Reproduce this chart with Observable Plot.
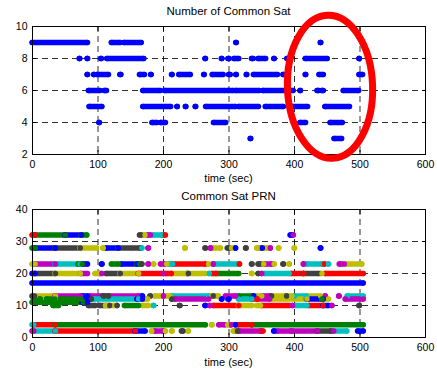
<!DOCTYPE html>
<html><head><meta charset="utf-8">
<script src="https://cdn.jsdelivr.net/npm/d3@7"></script>
<script src="https://cdn.jsdelivr.net/npm/@observablehq/plot@0.6"></script>
<style>
body{margin:0;background:#fff;font-family:"Liberation Sans",Arial,Helvetica,sans-serif;}
#fig{position:relative;width:437px;height:371px;overflow:hidden;background:#fff}
.ttl{position:absolute;left:32px;width:393px;text-align:center;font-size:11.5px;line-height:12px;color:#000;z-index:2}
.xl{font-size:11px}
.p{position:absolute;left:0}
</style></head><body>
<div id="fig">
  <div id="top" class="p" style="top:0"></div>
  <div id="bot" class="p" style="top:190px"></div>
  <div class="ttl" style="top:5px">Number of Common Sat</div>
  <div class="ttl xl" style="top:172px">time (sec)</div>
  <div class="ttl" style="top:190px">Common Sat PRN</div>
  <div class="ttl xl" style="top:356px">time (sec)</div>
</div>
<script>
// ---- axes / ticks ----
const timeTicks = [0, 100, 200, 300, 400, 500, 600];
const countTicks = [2, 4, 6, 8, 10];
const prnTicks = [0, 10, 20, 30, 40];

// ---- top panel: runs of equal satellite count [start sec, end sec, count] ----
const satCountRuns = [
  [0,84,9],[121,134,9],[140,166,9],[311,311,9],[440,440,9],
  [72,72,8],[84,84,8],[105,105,8],[114,170,8],[264,264,8],[289,289,8],[299,300,8],[308,315,8],
  [335,337,8],[345,356,8],[369,369,8],[389,389,8],[417,450,8],[499,499,8],
  [84,84,7],[94,94,7],[99,116,7],[134,135,7],[164,171,7],[181,181,7],[213,213,7],[224,241,7],
  [262,262,7],[275,291,7],[300,302,7],[311,311,7],[327,327,7],[338,374,7],[383,383,7],
  [417,417,7],[438,444,7],[499,504,7],
  [86,103,6],[110,113,6],[169,195,6],[202,294,6],[298,306,6],[310,346,6],[352,398,6],
  [409,409,6],[435,437,6],[442,444,6],[475,498,6],
  [87,106,5],[169,211,5],[221,221,5],[234,234,5],[249,249,5],[265,310,5],[315,345,5],
  [356,383,5],[397,420,5],[447,484,5],
  [102,102,4],[183,190,4],[196,203,4],[277,295,4],[409,417,4],[455,473,4],
  [333,333,3],[461,472,3]
];

// ---- annotation ellipse (data units): centre time, centre count, half-width sec, half-height count ----
const markEllipse = [455, 6.2, 65, 4.47];

// ---- bottom panel: runs of PRN tracks [prn, start sec, end sec, colour key] ----
const satColors = {b:"#0000ff", g:"#008000", r:"#ff0000", c:"#00bfbf", m:"#bf00bf", y:"#bfbf00", k:"#404040"};
const prnRuns = [
  [32,0,4,"r"],[32,4,50,"g"],[32,50,75,"b"],[32,75,83,"g"],[32,164,166,"k"],[32,168,172,"y"],
  [32,176,180,"m"],[32,184,198,"c"],[32,200,203,"r"],[32,394,396,"b"],[32,398,398,"m"],
  [28,0,4,"g"],[28,4,35,"b"],[28,35,73,"k"],[28,73,98,"y"],[28,108,108,"y"],[28,113,131,"b"],
  [28,131,164,"k"],[28,167,167,"c"],[28,177,177,"m"],[28,233,233,"y"],[28,264,264,"k"],
  [28,272,272,"m"],[28,276,287,"y"],[28,298,300,"k"],[28,304,304,"y"],[28,310,310,"b"],
  [28,326,326,"k"],[28,343,346,"y"],[28,349,351,"b"],[28,355,360,"y"],[28,363,363,"m"],
  [28,376,376,"y"],[28,400,400,"y"],[28,440,440,"b"],
  [23,0,4,"y"],[23,4,35,"m"],[23,35,73,"c"],[23,70,76,"g"],[23,78,84,"b"],[23,106,106,"b"],
  [23,121,131,"g"],[23,136,160,"b"],[23,160,164,"g"],[23,167,167,"k"],[23,177,177,"m"],
  [23,185,185,"y"],[23,196,202,"m"],[23,205,205,"y"],[23,208,214,"c"],[23,215,264,"r"],
  [23,269,269,"y"],[23,276,276,"m"],[23,279,315,"c"],[23,316,316,"r"],[23,335,335,"k"],
  [23,345,348,"k"],[23,351,353,"y"],[23,355,365,"m"],[23,369,369,"y"],[23,383,383,"k"],
  [23,392,392,"y"],[23,414,414,"m"],[23,419,443,"c"],[23,444,446,"r"],[23,452,452,"c"],
  [23,469,476,"m"],[23,478,503,"y"],
  [20,0,4,"b"],[20,4,35,"k"],[20,35,73,"y"],[20,74,84,"m"],[20,96,100,"y"],[20,103,106,"m"],
  [20,113,134,"k"],[20,134,162,"y"],[20,162,197,"r"],[20,200,200,"m"],[20,203,212,"r"],
  [20,213,233,"y"],[20,236,238,"k"],[20,238,264,"y"],[20,270,270,"c"],[20,274,280,"r"],
  [20,281,315,"g"],[20,335,335,"y"],[20,345,345,"k"],[20,350,350,"m"],[20,354,392,"c"],
  [20,395,414,"r"],[20,414,437,"k"],[20,440,442,"y"],[20,447,505,"r"],
  [17,0,505,"b"],
  [13,0,3,"k"],[13,4,35,"y"],[13,35,73,"m"],[13,76,84,"b"],[13,88,162,"m"],[13,108,110,"k"],
  [13,116,116,"k"],[13,167,168,"b"],[13,180,180,"k"],[13,187,195,"y"],[13,200,200,"m"],
  [13,205,210,"y"],[13,213,269,"c"],[13,272,274,"y"],[13,276,276,"k"],[13,280,284,"y"],
  [13,295,310,"m"],[13,315,335,"g"],[13,338,338,"b"],[13,343,350,"y"],[13,352,362,"m"],
  [13,365,365,"k"],[13,367,384,"y"],[13,388,388,"k"],[13,390,396,"y"],[13,400,418,"c"],
  [13,419,440,"y"],[13,447,447,"m"],[13,468,468,"m"],[13,481,505,"c"],
  [12,2,12,"g"],[12,22,34,"g"],[12,44,56,"g"],[12,62,74,"g"],[12,78,86,"b"],[12,90,90,"k"],
  [12,94,162,"c"],[12,160,168,"b"],[12,172,176,"y"],[12,213,213,"k"],[12,218,269,"m"],
  [12,289,289,"b"],[12,299,300,"b"],[12,315,335,"c"],[12,336,343,"r"],[12,344,362,"m"],
  [12,366,419,"y"],[12,419,444,"b"],[12,442,442,"g"],[12,446,452,"y"],[12,478,505,"m"],
  [11,0,78,"g"],[11,76,84,"b"],
  [10,32,40,"g"],[10,86,96,"k"],[10,103,118,"k"],[10,112,126,"y"],[10,129,129,"k"],
  [10,141,162,"g"],[10,168,177,"y"],[10,185,185,"c"],[10,225,225,"k"],[10,264,264,"b"],
  [10,271,271,"m"],[10,276,315,"r"],[10,315,335,"y"],[10,343,348,"y"],[10,350,392,"r"],
  [10,397,397,"m"],[10,402,419,"c"],[10,422,444,"r"],[10,444,452,"b"],[10,457,457,"m"],
  [10,499,499,"k"],
  [4,0,2,"c"],[4,2,35,"r"],[4,35,264,"g"],[4,274,274,"y"],[4,285,294,"m"],[4,298,298,"y"],
  [4,302,304,"m"],[4,310,310,"b"],[4,314,335,"r"],[4,335,505,"g"],
  [2,0,2,"m"],[2,2,35,"c"],[2,35,157,"r"],[2,157,172,"b"],[2,182,182,"y"],[2,187,200,"m"],
  [2,203,203,"y"],[2,213,213,"y"],[2,228,230,"k"],[2,238,238,"y"],[2,307,310,"y"],
  [2,311,313,"k"],[2,316,349,"m"],[2,349,352,"r"],[2,369,369,"b"],[2,374,394,"m"],
  [2,397,435,"m"],[2,435,455,"k"],[2,456,460,"m"],[2,460,480,"c"],[2,497,505,"b"]
];

const FONT = "\"Liberation Sans\", Arial, Helvetica, sans-serif";
const DOT_W = 5.5;
const gridStyle = {stroke:"#000", strokeOpacity:0.9, strokeDasharray:"6,4", strokeWidth:0.9};
const noText = () => "";

function grid(yTicks) {
  return [
    Plot.ruleX(timeTicks.slice(1, -1), gridStyle),
    Plot.ruleY(yTicks.slice(1, -1), gridStyle),
  ];
}
function frameAndAxes(yTicks) {
  return [
    Plot.frame({stroke:"#000", strokeWidth:1}),
    // inward tick marks on all four sides
    Plot.axisX(timeTicks, {anchor:"bottom", tickSize:-4, tickFormat:noText, label:null}),
    Plot.axisX(timeTicks, {anchor:"top", tickSize:-4, tickFormat:noText, label:null}),
    Plot.axisY(yTicks, {anchor:"left", tickSize:-4, tickFormat:noText, label:null}),
    Plot.axisY(yTicks, {anchor:"right", tickSize:-4, tickFormat:noText, label:null}),
    // tick labels
    Plot.axisX(timeTicks, {anchor:"bottom", tickSize:0, tickPadding:6, label:null, fontSize:10.5}),
    Plot.axisY(yTicks, {anchor:"left", tickSize:0, tickPadding:5, label:null, fontSize:10.5}),
  ];
}

// ---- top panel ----
const topPlot = Plot.plot({
  width: 437, height: 190,
  marginLeft: 32, marginRight: 12, marginTop: 26, marginBottom: 36,
  style: {fontFamily: FONT, fontSize: "10.5px", color: "#000", background: "transparent", overflow: "visible"},
  x: {domain: [0, 600]},
  y: {domain: [2, 10]},
  marks: [
    ...grid(countTicks),
    Plot.ruleY(satCountRuns, {x1: d => d[0], x2: d => d[1], y: d => d[2], stroke: "#0000ff", strokeWidth: DOT_W, strokeLinecap: "round"}),
    Plot.dot(satCountRuns, {x: d => d[0], y: d => d[2], r: DOT_W / 2, fill: "#0000ff"}),
    Plot.dot(satCountRuns, {x: d => d[1], y: d => d[2], r: DOT_W / 2, fill: "#0000ff"}),
    ...frameAndAxes(countTicks)
  ]
});
document.getElementById("top").appendChild(topPlot);

// red annotation ellipse placed through the plot's own scales
{
  const sx = topPlot.scale("x"), sy = topPlot.scale("y");
  const [ct, cn, dt, dn] = markEllipse;
  const cx = sx.apply(ct), cy = sy.apply(cn);
  const rx = sx.apply(ct + dt) - cx, ry = sy.apply(cn - dn) - cy;
  d3.select(topPlot).append("ellipse")
    .attr("cx", cx).attr("cy", cy).attr("rx", rx).attr("ry", ry)
    .attr("transform", `rotate(-2 ${cx} ${cy})`)
    .attr("fill", "none").attr("stroke", "#ff0000").attr("stroke-width", 7);
}

// ---- bottom panel ----
const botPlot = Plot.plot({
  width: 437, height: 181,
  marginLeft: 32, marginRight: 12, marginTop: 19, marginBottom: 34,
  style: {fontFamily: FONT, fontSize: "10.5px", color: "#000", background: "transparent", overflow: "visible"},
  x: {domain: [0, 600]},
  y: {domain: [0, 40]},
  color: {type: "identity"},
  marks: [
    ...grid(prnTicks),
    Plot.ruleY(prnRuns, {x1: d => d[1], x2: d => d[2], y: d => d[0], stroke: d => satColors[d[3]], strokeWidth: DOT_W, strokeLinecap: "round"}),
    Plot.dot(prnRuns, {x: d => d[1], y: d => d[0], r: DOT_W / 2, fill: d => satColors[d[3]]}),
    Plot.dot(prnRuns, {x: d => d[2], y: d => d[0], r: DOT_W / 2, fill: d => satColors[d[3]]}),
    ...frameAndAxes(prnTicks)
  ]
});
document.getElementById("bot").appendChild(botPlot);
</script>
</body></html>
